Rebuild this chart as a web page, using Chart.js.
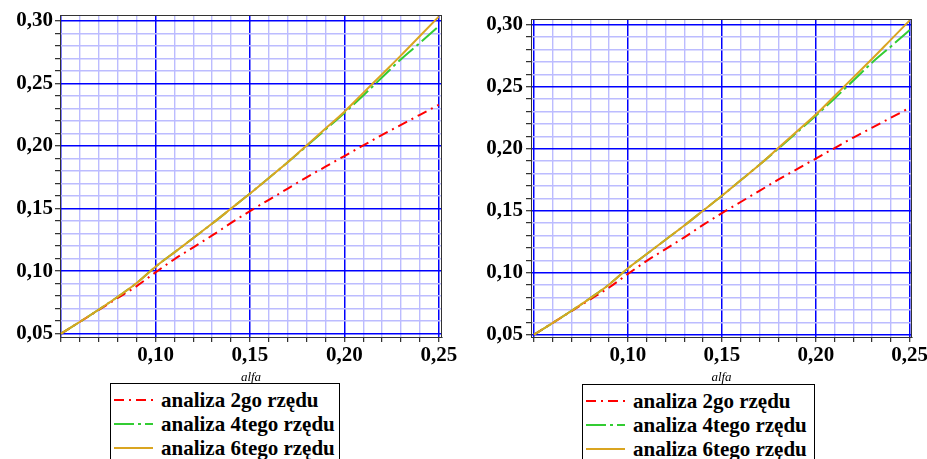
<!DOCTYPE html>
<html>
<head>
<meta charset="utf-8">
<script src="https://cdn.jsdelivr.net/npm/chart.js@4.4.0/dist/chart.umd.min.js"></script>
<style>
    html, body { margin: 0; padding: 0; background: #ffffff; }
    body { width: 927px; height: 459px; overflow: hidden; position: relative; }
    canvas { position: absolute; top: 0; }
    .leyenda { position: absolute; height: 90px; box-sizing: border-box; border: 1px solid #000; background: #fff;
               padding-top: 4px; font: bold 21px "Liberation Serif", "Times New Roman", serif; color: #000; }
    .fila { height: 24px; line-height: 24px; white-space: nowrap; display: flex; align-items: center; }
    .fila svg { margin-left: 3px; margin-right: 8px; flex: none; }
</style>
</head>
<body>
<canvas id="grafico1" width="463" height="387" style="left:0px"></canvas>
<canvas id="grafico2" width="480" height="387" style="left:463px"></canvas>
<div class="leyenda" id="leyenda1" style="left:110px; top:383px; width:230px;"></div>
<div class="leyenda" id="leyenda2" style="left:582px; top:384px; width:233px;"></div>
<script>
// datos (alfa cada 0,01)
var alfa = [0.05, 0.06, 0.07, 0.08, 0.09, 0.10, 0.11, 0.12, 0.13, 0.14, 0.15,
            0.16, 0.17, 0.18, 0.19, 0.20, 0.21, 0.22, 0.23, 0.24, 0.25];
var analiza2go = [0.050, 0.0595, 0.069, 0.0785, 0.088, 0.099, 0.1095, 0.119, 0.1285, 0.1385, 0.148,
                  0.157, 0.166, 0.175, 0.1835, 0.192, 0.2005, 0.209, 0.217, 0.225, 0.233];
var analiza4tego = [0.050, 0.0595, 0.0693, 0.0795, 0.0905, 0.1035, 0.115, 0.1265, 0.138, 0.150, 0.162,
                    0.1745, 0.187, 0.2, 0.2132, 0.2265, 0.2405, 0.255, 0.2695, 0.2825, 0.2958];
var analiza6tego = [0.050, 0.0595, 0.0693, 0.0795, 0.0905, 0.1035, 0.115, 0.1265, 0.138, 0.150, 0.162,
                    0.1745, 0.187, 0.2005, 0.214, 0.2275, 0.2425, 0.2575, 0.2725, 0.288, 0.3035];

var nombresSeries = ['analiza 2go rzędu', 'analiza 4tego rzędu', 'analiza 6tego rzędu'];
var marcasX = [0.10, 0.15, 0.20, 0.25];
var marcasY = [0.05, 0.10, 0.15, 0.20, 0.25, 0.30];
var tituloX = 'alfa';

var colores = ['#ff0000', '#33cc33', '#daa520'];
var trazos = [[10, 5, 2, 5], [20, 4, 3, 4], []];
var fuente = "'Liberation Serif', 'Times New Roman', serif";

function puntos(valores) {
    var lista = [];
    for (var i = 0; i < alfa.length; i++) {
        lista.push({x: alfa[i], y: valores[i]});
    }
    return lista;
}

function esMayor(valor) {
    return Math.round(valor * 100) % 5 === 0;
}

function etiqueta(valor, marcas) {
    for (var i = 0; i < marcas.length; i++) {
        if (Math.abs(marcas[i] - valor) < 1e-6) {
            return valor.toFixed(2).replace('.', ',');
        }
    }
    return '';
}

var marco = {
    id: 'marco',
    beforeDatasetsDraw: function (chart) {
        var a = chart.chartArea;
        var c = chart.ctx;
        c.save();
        c.strokeStyle = '#333333';
        c.lineWidth = 1;
        c.strokeRect(a.left + 0.5, a.top + 0.5, a.right - a.left - 1, a.bottom - a.top);
        c.restore();
    }
};

function rejilla() {
    return {
        color: function (ctx) { return esMayor(ctx.tick.value) ? '#0000ff' : '#bcbcff'; },
        lineWidth: function (ctx) { return esMayor(ctx.tick.value) ? 1.5 : 1.4; },
        tickColor: '#000000',
        tickWidth: 1,
        tickLength: 5
    };
}

function crearGrafico(id, caja) {
    var series = [analiza2go, analiza4tego, analiza6tego];
    var datasets = [];
    for (var i = 0; i < series.length; i++) {
        datasets.push({
            label: nombresSeries[i],
            data: puntos(series[i]),
            borderColor: colores[i],
            borderDash: trazos[i],
            borderWidth: 2,
            pointRadius: 0,
            fill: false,
            cubicInterpolationMode: 'monotone'
        });
    }
    // la serie naranja se dibuja encima
    datasets.reverse();

    var ctx = document.getElementById(id).getContext('2d');
    return new Chart(ctx, {
        type: 'line',
        data: {datasets: datasets},
        options: {
            responsive: false,
            animation: false,
            devicePixelRatio: 1,
            layout: {padding: {top: caja.arriba, right: caja.derecha, left: 0, bottom: 0}},
            plugins: {legend: {display: false}, tooltip: {enabled: false}},
            scales: {
                x: {
                    type: 'linear',
                    min: caja.xMin,
                    max: caja.xMax,
                    afterFit: function (s) { s.height = 50; },
                    grid: rejilla(),
                    border: {color: '#000000', width: 1},
                    ticks: {
                        stepSize: 0.01, autoSkip: false, maxRotation: 0, includeBounds: false,
                        padding: 1, color: '#000000',
                        font: {family: fuente, size: 21, weight: 'bold'},
                        callback: function (v) { return etiqueta(v, marcasX); }
                    },
                    title: {
                        display: true, text: tituloX, color: '#000000',
                        font: {family: fuente, size: 13, style: 'italic'},
                        padding: {top: 0, bottom: 2}
                    }
                },
                y: {
                    type: 'linear',
                    min: caja.yMin,
                    max: caja.yMax,
                    afterFit: function (s) { s.width = caja.anchoY; },
                    grid: rejilla(),
                    border: {color: '#000000', width: 1},
                    ticks: {
                        stepSize: 0.01, autoSkip: false, includeBounds: false,
                        padding: caja.sepY, color: '#000000',
                        font: {family: fuente, size: 21, weight: 'bold'},
                        callback: function (v) { return etiqueta(v, marcasY); }
                    }
                }
            }
        },
        plugins: [marco]
    });
}

function crearLeyenda(id) {
    var html = '';
    for (var i = 0; i < nombresSeries.length; i++) {
        html += '<div class="fila"><svg width="39" height="6"><line x1="0" y1="3" x2="39" y2="3" stroke="' + colores[i] +
                '" stroke-width="2" stroke-dasharray="' + (trazos[i].length ? trazos[i].join(' ') : 'none') +
                '"/></svg><span>' + nombresSeries[i] + '</span></div>';
    }
    document.getElementById(id).innerHTML = html;
}

crearGrafico('grafico1', {arriba: 15, derecha: 21, anchoY: 60, sepY: 2,
    xMin: 0.0494, xMax: 0.2517, yMin: 0.0473, yMax: 0.3048});
crearGrafico('grafico2', {arriba: 19, derecha: 31, anchoY: 68, sepY: 3,
    xMin: 0.0484, xMax: 0.2512, yMin: 0.0481, yMax: 0.3046});
crearLeyenda('leyenda1');
crearLeyenda('leyenda2');
</script>
</body>
</html>
